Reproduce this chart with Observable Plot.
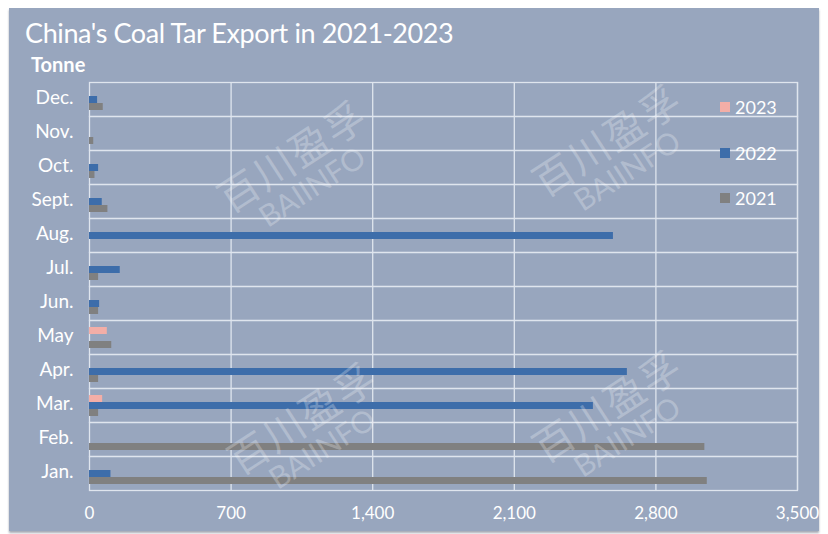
<!DOCTYPE html>
<html><head><meta charset="utf-8">
<script src="https://cdn.jsdelivr.net/npm/d3@7"></script>
<script src="https://cdn.jsdelivr.net/npm/@observablehq/plot@0.6"></script>
<style>
body{margin:0;background:#fff;width:828px;height:534px;position:relative;overflow:hidden;font-family:Lato,"Open Sans",sans-serif;}
#panel{position:absolute;left:9px;top:8px;width:810px;height:523px;background:#98a6be;box-shadow:0 2px 2px rgba(60,70,90,0.45);}
#chart{position:absolute;left:0;top:60px;}
#title{position:absolute;left:25px;top:19px;color:#fff;font-size:27px;line-height:27px;white-space:nowrap;letter-spacing:-0.4px;}
#unit{position:absolute;left:31px;top:54px;color:#fff;font-size:20px;line-height:20px;font-weight:700;}
.leg{position:absolute;left:720px;color:#fff;font-size:18px;line-height:18px;display:flex;align-items:center;}
.leg span.sw{display:inline-block;width:10px;height:10px;margin-right:5px;}
.wm{position:absolute;color:rgba(255,255,255,0.26);text-align:center;transform:translate(-50%,-50%) rotate(-33deg);line-height:1;white-space:nowrap;font-family:"Noto Sans CJK SC",sans-serif;}
.wm .cn{font-size:40px;letter-spacing:2px;}
.wm .en{font-size:30px;font-family:Lato,sans-serif;margin-top:2px;}
</style></head>
<body>
<div id="panel"></div>
<div id="chart"></div>
<div id="title">China's Coal Tar Export in 2021-2023</div>
<div id="unit">Tonne</div>
<div id="legend"></div>
<div id="wms"></div>
<script>
const months = ["Jan.","Feb.","Mar.","Apr.","May","Jun.","Jul.","Aug.","Sept.","Oct.","Nov.","Dec."];
const series = ["2023","2022","2021"];
const colors = ["#f3aea7","#3d6daa","#808080"];
const v2023 = [null, null, 65, null, 88, null, null, null, null, null, null, null];
const v2022 = [106, null, 2491, 2659, null, 50, 152, 2590, 63, 45, null, 40];
const v2021 = [3054, 3042, 45, 45, 110, 45, 45, null, 91, 27, 21, 68];
const xTicks = [0, 700, 1400, 2100, 2800, 3500];
const watermarkCn = "百川盈孚";
const watermarkEn = "BAIINFO";

const bySeries = {"2023": v2023, "2022": v2022, "2021": v2021};
const data = [];
months.forEach((m, i) => {
  series.forEach(s => {
    const v = bySeries[s][i];
    if (v != null) data.push({month: m, series: s, value: v});
  });
});

const lineColor = "#dfe5ee";
const chart = Plot.plot({
  width: 828, height: 473,
  marginTop: 19, marginBottom: 40, marginLeft: 89, marginRight: 31,
  style: {background: "transparent", color: "#fff", fontFamily: "Lato, 'Open Sans', sans-serif", fontSize: "17px"},
  x: {domain: [0, 3500], ticks: xTicks, tickFormat: d3.format(","), label: null, tickSize: 0, tickPadding: 16},
  y: {domain: series, axis: null, paddingInner: 0, paddingOuter: 0.8},
  fy: {domain: months.slice().reverse(), padding: 0, label: null, axis: "left", tickSize: 0, tickPadding: 16},
  color: {domain: series, range: colors},
  marks: [
    Plot.gridX(xTicks.slice(1), {stroke: lineColor, strokeOpacity: 1, strokeWidth: 1.3}),
    Plot.frame({stroke: lineColor, strokeWidth: 1.3}),
    Plot.barX(data, {x: "value", y: "series", fy: "month", fill: "series"})
  ]
});
document.getElementById("chart").appendChild(chart);
d3.select(chart).selectAll('g[aria-label="fy-axis tick label"] text')
  .style("font-size", "19px").attr("dy", "-0.1em");

const leg = document.getElementById("legend");
const legY = {"2023": 107, "2022": 153, "2021": 198};
series.forEach((s, i) => {
  const d = document.createElement("div");
  d.className = "leg";
  d.style.top = (legY[s] - 9) + "px";
  d.innerHTML = `<span class="sw" style="background:${colors[i]}"></span>${s}`;
  leg.appendChild(d);
});

const wms = document.getElementById("wms");
[[300,168],[615,152],[310,430],[615,418]].forEach(([x,y]) => {
  const d = document.createElement("div");
  d.className = "wm";
  d.style.left = x + "px"; d.style.top = y + "px";
  d.innerHTML = `<div class="cn">${watermarkCn}</div><div class="en">${watermarkEn}</div>`;
  wms.appendChild(d);
});
</script>
</body></html>
